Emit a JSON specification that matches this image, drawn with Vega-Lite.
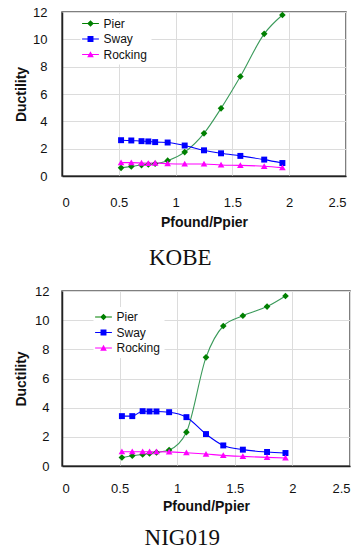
{
  "$schema": "https://vega.github.io/schema/vega-lite/v6.json",
  "padding": {"left": 13, "top": 5, "right": 2, "bottom": 0},
  "background": "white",
  "datasets": {
    "kobe": [
      {"x": 0.52, "series": "Pier", "y": 0.6}, {"x": 0.61, "series": "Pier", "y": 0.7}, {"x": 0.70, "series": "Pier", "y": 0.8}, {"x": 0.76, "series": "Pier", "y": 0.85}, {"x": 0.82, "series": "Pier", "y": 0.9}, {"x": 0.93, "series": "Pier", "y": 1.12}, {"x": 1.08, "series": "Pier", "y": 1.75}, {"x": 1.25, "series": "Pier", "y": 3.12}, {"x": 1.40, "series": "Pier", "y": 4.95}, {"x": 1.57, "series": "Pier", "y": 7.28}, {"x": 1.78, "series": "Pier", "y": 10.4}, {"x": 1.94, "series": "Pier", "y": 11.78},
      {"x": 0.52, "series": "Sway", "y": 2.62}, {"x": 0.61, "series": "Sway", "y": 2.6}, {"x": 0.70, "series": "Sway", "y": 2.55}, {"x": 0.76, "series": "Sway", "y": 2.53}, {"x": 0.82, "series": "Sway", "y": 2.48}, {"x": 0.93, "series": "Sway", "y": 2.45}, {"x": 1.08, "series": "Sway", "y": 2.23}, {"x": 1.25, "series": "Sway", "y": 1.88}, {"x": 1.40, "series": "Sway", "y": 1.66}, {"x": 1.57, "series": "Sway", "y": 1.47}, {"x": 1.78, "series": "Sway", "y": 1.2}, {"x": 1.94, "series": "Sway", "y": 0.95},
      {"x": 0.52, "series": "Rocking", "y": 0.98}, {"x": 0.61, "series": "Rocking", "y": 0.98}, {"x": 0.70, "series": "Rocking", "y": 0.95}, {"x": 0.76, "series": "Rocking", "y": 0.93}, {"x": 0.82, "series": "Rocking", "y": 0.95}, {"x": 0.93, "series": "Rocking", "y": 0.9}, {"x": 1.08, "series": "Rocking", "y": 0.88}, {"x": 1.25, "series": "Rocking", "y": 0.88}, {"x": 1.40, "series": "Rocking", "y": 0.81}, {"x": 1.57, "series": "Rocking", "y": 0.78}, {"x": 1.78, "series": "Rocking", "y": 0.71}, {"x": 1.94, "series": "Rocking", "y": 0.61}
    ],
    "nig": [
      {"x": 0.52, "series": "Pier", "y": 0.58}, {"x": 0.61, "series": "Pier", "y": 0.7}, {"x": 0.70, "series": "Pier", "y": 0.79}, {"x": 0.76, "series": "Pier", "y": 0.86}, {"x": 0.82, "series": "Pier", "y": 0.93}, {"x": 0.93, "series": "Pier", "y": 1.1}, {"x": 1.08, "series": "Pier", "y": 2.32}, {"x": 1.25, "series": "Pier", "y": 7.45}, {"x": 1.40, "series": "Pier", "y": 9.6}, {"x": 1.57, "series": "Pier", "y": 10.3}, {"x": 1.78, "series": "Pier", "y": 10.93}, {"x": 1.94, "series": "Pier", "y": 11.66},
      {"x": 0.52, "series": "Sway", "y": 3.42}, {"x": 0.61, "series": "Sway", "y": 3.42}, {"x": 0.70, "series": "Sway", "y": 3.76}, {"x": 0.76, "series": "Sway", "y": 3.74}, {"x": 0.82, "series": "Sway", "y": 3.74}, {"x": 0.93, "series": "Sway", "y": 3.69}, {"x": 1.08, "series": "Sway", "y": 3.35}, {"x": 1.25, "series": "Sway", "y": 2.19}, {"x": 1.40, "series": "Sway", "y": 1.41}, {"x": 1.57, "series": "Sway", "y": 1.12}, {"x": 1.78, "series": "Sway", "y": 0.96}, {"x": 1.94, "series": "Sway", "y": 0.89},
      {"x": 0.52, "series": "Rocking", "y": 0.98}, {"x": 0.61, "series": "Rocking", "y": 0.98}, {"x": 0.70, "series": "Rocking", "y": 0.98}, {"x": 0.76, "series": "Rocking", "y": 0.98}, {"x": 0.82, "series": "Rocking", "y": 0.98}, {"x": 0.93, "series": "Rocking", "y": 0.97}, {"x": 1.08, "series": "Rocking", "y": 0.91}, {"x": 1.25, "series": "Rocking", "y": 0.82}, {"x": 1.40, "series": "Rocking", "y": 0.73}, {"x": 1.57, "series": "Rocking", "y": 0.66}, {"x": 1.78, "series": "Rocking", "y": 0.59}, {"x": 1.94, "series": "Rocking", "y": 0.55}
    ]
  },
  "config": {
    "font": "Liberation Sans",
    "view": {"stroke": "#555", "strokeWidth": 1.5},
    "axis": {"grid": true, "gridColor": "#dcdcdc", "gridWidth": 1, "ticks": false, "domainColor": "#222", "domainWidth": 1.5, "labelFont": "Liberation Sans", "labelFontSize": 13, "labelColor": "#111", "titleFont": "Liberation Sans", "titleFontSize": 14, "titleFontWeight": "bold", "titleColor": "#111"},
    "legend": {"labelFont": "Liberation Sans", "labelFontSize": 12, "labelColor": "#111", "symbolOpacity": 1},
    "title": {"font": "Liberation Serif", "fontSize": 23, "fontWeight": "normal", "color": "#111", "orient": "bottom", "anchor": "middle", "frame": "bounds"},
    "concat": {"spacing": 13}
  },
  "resolve": {"legend": {"color": "independent", "shape": "independent"}},
  "vconcat": [
    {
      "title": {"text": "KOBE", "offset": 18},
      "width": 284,
      "height": 164,
      "data": {"name": "kobe"},
      "encoding": {
        "x": {"field": "x", "type": "quantitative", "scale": {"domain": [0, 2.5], "nice": false}, "axis": {"values": [0, 0.5, 1, 1.5, 2, 2.5], "format": "~g", "title": "Pfound/Ppier", "labelPadding": 20, "titlePadding": 6}},
        "y": {"field": "y", "type": "quantitative", "scale": {"domain": [0, 12], "nice": false}, "axis": {"values": [0, 2, 4, 6, 8, 10, 12], "title": "Ductility", "labelPadding": 15, "titlePadding": 4}}
      },
      "layer": [
        {
          "mark": {"type": "line", "interpolate": "monotone", "strokeWidth": 1.1},
          "encoding": {"stroke": {"field": "series", "type": "nominal", "scale": {"domain": ["Pier", "Sway", "Rocking"], "range": ["#3a9a5a", "#0000ff", "#ff00ff"]}, "legend": null}}
        },
        {"transform": [{"filter": "datum.series == 'Pier'"}], "mark": {"type": "point", "filled": true, "opacity": 1, "size": 49, "color": "#008000", "shape": "M0,-0.95L0.95,0L0,0.95L-0.95,0Z"}},
        {"transform": [{"filter": "datum.series == 'Sway'"}], "mark": {"type": "point", "filled": true, "opacity": 1, "size": 49, "color": "#0000ff", "shape": "M-0.85,-0.85H0.85V0.85H-0.85Z"}},
        {"transform": [{"filter": "datum.series == 'Rocking'"}], "mark": {"type": "point", "filled": true, "opacity": 1, "size": 49, "color": "#ff00ff", "shape": "M0,-0.9L0.95,0.75H-0.95Z"}},
        {
          "mark": {"type": "point", "filled": true, "opacity": 0, "size": 49},
          "encoding": {
            "color": {"field": "series", "type": "nominal", "scale": {"domain": ["Pier", "Sway", "Rocking"], "range": ["#008000", "#0000ff", "#ff00ff"]},
              "legend": {"title": null, "orient": "none", "legendX": 18.5, "legendY": 1.5, "fillColor": "white", "padding": 4, "symbolSize": 49, "symbolOpacity": 1, "labelOffset": 7, "rowPadding": 2.5}},
            "shape": {"field": "series", "type": "nominal", "scale": {"domain": ["Pier", "Sway", "Rocking"], "range": ["M-2.4,-0.15H2.4V0.15H-2.4ZM0,-0.95L0.95,0L0,0.95L-0.95,0Z", "M-2.4,-0.15H2.4V0.15H-2.4ZM-0.85,-0.85H0.85V0.85H-0.85Z", "M-2.4,-0.15H2.4V0.15H-2.4ZM0,-0.9L0.95,0.75H-0.95Z"]},
              "legend": {"title": null, "orient": "none", "legendX": 18.5, "legendY": 1.5, "fillColor": "white", "padding": 4, "symbolSize": 49, "symbolOpacity": 1, "labelOffset": 7, "rowPadding": 2.5}}
          }
        }
      ]
    },
    {
      "title": {"text": "NIG019", "offset": 14},
      "width": 288,
      "height": 175,
      "data": {"name": "nig"},
      "encoding": {
        "x": {"field": "x", "type": "quantitative", "scale": {"domain": [0, 2.5], "nice": false}, "axis": {"values": [0, 0.5, 1, 1.5, 2, 2.5], "format": "~g", "title": "Pfound/Ppier", "labelPadding": 16, "titlePadding": 4}},
        "y": {"field": "y", "type": "quantitative", "scale": {"domain": [0, 12], "nice": false}, "axis": {"values": [0, 2, 4, 6, 8, 10, 12], "title": "Ductility", "labelPadding": 13, "titlePadding": 6}}
      },
      "layer": [
        {
          "mark": {"type": "line", "interpolate": "monotone", "strokeWidth": 1.1},
          "encoding": {"stroke": {"field": "series", "type": "nominal", "scale": {"domain": ["Pier", "Sway", "Rocking"], "range": ["#3a9a5a", "#0000ff", "#ff00ff"]}, "legend": null}}
        },
        {"transform": [{"filter": "datum.series == 'Pier'"}], "mark": {"type": "point", "filled": true, "opacity": 1, "size": 49, "color": "#008000", "shape": "M0,-0.95L0.95,0L0,0.95L-0.95,0Z"}},
        {"transform": [{"filter": "datum.series == 'Sway'"}], "mark": {"type": "point", "filled": true, "opacity": 1, "size": 49, "color": "#0000ff", "shape": "M-0.85,-0.85H0.85V0.85H-0.85Z"}},
        {"transform": [{"filter": "datum.series == 'Rocking'"}], "mark": {"type": "point", "filled": true, "opacity": 1, "size": 49, "color": "#ff00ff", "shape": "M0,-0.9L0.95,0.75H-0.95Z"}},
        {
          "mark": {"type": "point", "filled": true, "opacity": 0, "size": 49},
          "encoding": {
            "color": {"field": "series", "type": "nominal", "scale": {"domain": ["Pier", "Sway", "Rocking"], "range": ["#008000", "#0000ff", "#ff00ff"]},
              "legend": {"title": null, "orient": "none", "legendX": 31.5, "legendY": 16, "fillColor": "white", "padding": 4, "symbolSize": 49, "symbolOpacity": 1, "labelOffset": 7, "rowPadding": 2.5}},
            "shape": {"field": "series", "type": "nominal", "scale": {"domain": ["Pier", "Sway", "Rocking"], "range": ["M-2.4,-0.15H2.4V0.15H-2.4ZM0,-0.95L0.95,0L0,0.95L-0.95,0Z", "M-2.4,-0.15H2.4V0.15H-2.4ZM-0.85,-0.85H0.85V0.85H-0.85Z", "M-2.4,-0.15H2.4V0.15H-2.4ZM0,-0.9L0.95,0.75H-0.95Z"]},
              "legend": {"title": null, "orient": "none", "legendX": 31.5, "legendY": 16, "fillColor": "white", "padding": 4, "symbolSize": 49, "symbolOpacity": 1, "labelOffset": 7, "rowPadding": 2.5}}
          }
        }
      ]
    }
  ]
}
